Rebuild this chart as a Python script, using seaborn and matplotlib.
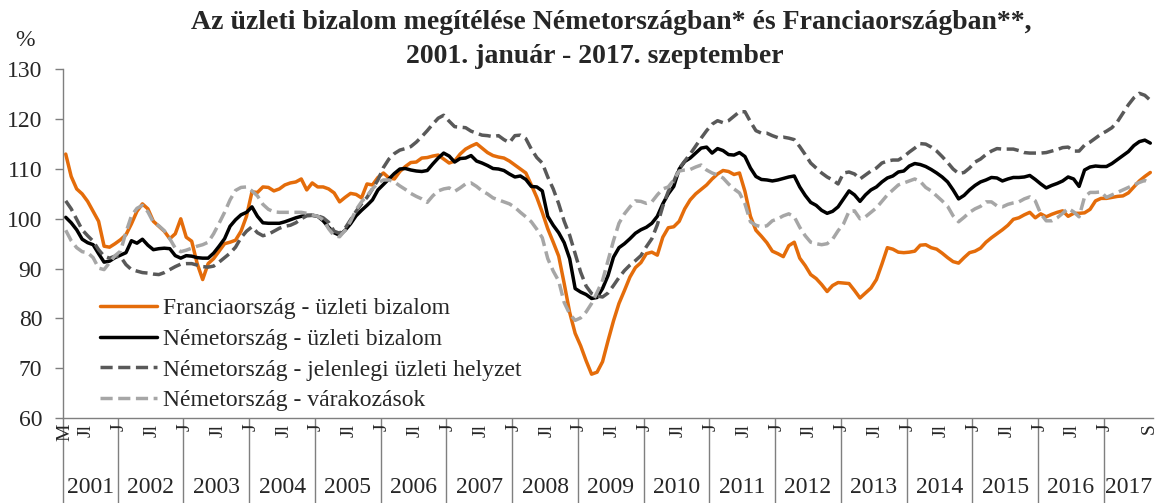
import numpy as np
import pandas as pd
import matplotlib
matplotlib.use('Agg')
import matplotlib.pyplot as plt
import matplotlib.transforms as mtransforms
import seaborn as sns

# 2001. március - 2017. szeptember, havi adatok
years = list(range(2001, 2018))
months_in_year = [10] + [12] * 15 + [9]

fr_business = (
    [113, 108.5, 106, 105, 103.5, 101.5, 99.5, 94.5, 94.3, 95] +
    [95.8, 96.8, 99, 101.5, 103, 102, 99.5, 98.5, 97.5, 96, 97, 100] +
    [96.3, 95.5, 91, 87.8, 91, 92, 93.5, 95, 95.3, 95.7, 97.5, 100.5] +
    [105.4, 105.3, 106.4, 106.3, 105.6, 106, 106.8, 107.2, 107.4, 108, 105.8, 107.2] +
    [106.4, 106.4, 106, 105.2, 103.4, 104.3, 105.1, 104.9, 104.2, 107, 106.8, 108.3] +
    [109.2, 108.2, 108, 109.5, 110.5, 111.3, 111.4, 112.2, 112.3, 112.6, 112.8, 112] +
    [111.2, 111.6, 113, 114, 114.6, 115.1, 114.2, 113.3, 112.7, 112.4, 112.2, 111.6] +
    [110.8, 110, 109.2, 106.8, 104.3, 101.3, 98, 95.3, 92.5, 87, 81.2, 77] +
    [74.5, 71.5, 68.8, 69.2, 71.3, 75.5, 79.5, 83, 85.6, 88.3, 90.2, 91.2] +
    [93, 93.3, 92.7, 96.3, 98.2, 98.4, 99.5, 102, 103.8, 105, 105.9, 106.8] +
    [108, 109, 109.7, 109.5, 108.9, 109.2, 105.5, 100.5, 97.7, 96.5, 95.2, 93.5] +
    [93, 92.4, 94.6, 95.3, 92.1, 90.6, 88.8, 88, 86.8, 85.4, 86.6, 87.2] +
    [87.1, 87, 85.6, 84.1, 85.1, 86.1, 87.8, 90.9, 94.2, 93.9, 93.3, 93.2] +
    [93.3, 93.5, 94.7, 94.8, 94.2, 93.9, 93.1, 92.2, 91.4, 91.1, 92.2, 93.2] +
    [93.5, 94.1, 95.3, 96.2, 97, 97.8, 98.7, 99.9, 100.2, 100.8, 101.3, 100.2] +
    [101, 100.4, 100.9, 101.3, 101.6, 100.5, 101.1, 101.1, 101.2, 101.9, 103.6, 104.1] +
    [104.1, 104.3, 104.5, 104.6, 105.2, 106.4, 107.6, 108.5, 109.3]
)

de_business = (
    [100.3, 99.2, 97.8, 95.9, 95.2, 94.8, 93, 91.3, 91.5, 92.2] +
    [92.7, 93.2, 95.6, 95.1, 95.9, 94.7, 93.8, 94, 94.1, 94, 92.6, 92.1] +
    [92.6, 92.5, 92.2, 92.1, 92.1, 93.1, 94.5, 96, 98.5, 99.8, 100.8, 101.3] +
    [102.4, 100.5, 99.2, 99.1, 99.1, 99.1, 99.4, 99.8, 100.2, 100.5, 100.7, 100.7] +
    [100.5, 99.6, 98.3, 97.2, 96.7, 97.7, 99, 100.6, 101.7, 102.7, 103.8, 105.8] +
    [106.9, 108, 109.1, 110, 110.1, 109.8, 109.6, 109.5, 109.7, 111, 112.2, 113.2] +
    [112.6, 111.4, 112.1, 112.2, 112.7, 111.6, 111.2, 110.7, 110.1, 110, 109.7, 109] +
    [108.4, 108.6, 107.9, 106.5, 106.4, 105.6, 100.5, 98.7, 97.2, 95.2, 92, 86] +
    [85.3, 84.8, 84, 84.2, 86, 88.6, 92.3, 94.2, 95, 96, 97.1, 97.8] +
    [98.3, 99.1, 100.5, 103, 105, 106.5, 110, 111.5, 112.2, 113.2, 114.2, 114.4] +
    [113.2, 114.1, 113.7, 112.9, 112.8, 113.3, 112.5, 110.2, 108.5, 107.9, 107.8, 107.6] +
    [107.8, 108.1, 108.4, 108.6, 106.4, 104.7, 103.3, 102.7, 101.7, 101.1, 101.5, 102.4] +
    [104, 105.6, 104.8, 103.5, 104.8, 105.8, 106.4, 107.4, 108.2, 108.6, 109.4, 109.6] +
    [110.6, 111.1, 110.9, 110.5, 109.9, 109.2, 108.4, 107.4, 105.8, 104, 104.7, 105.8] +
    [106.7, 107.4, 107.8, 108.3, 108.2, 107.6, 108, 108.3, 108.3, 108.4, 108.7, 107.9] +
    [107, 106.2, 106.7, 107.1, 107.6, 108.4, 108, 106.5, 109.8, 110.4, 110.6, 110.5] +
    [110.5, 111.1, 111.9, 112.7, 113.5, 114.7, 115.5, 115.8, 115.2]
)

de_current = (
    [103.6, 102, 99.9, 97.8, 96.6, 95.5, 93.8, 92.5, 92.1, 92.5] +
    [92.4, 90.8, 89.8, 89.5, 89.2, 89.1, 88.9, 88.8, 89.2, 89.8, 90.4, 90.9] +
    [91, 91, 90.7, 90.4, 90.3, 90.5, 91.3, 92.2, 93.1, 94.3, 96.2, 97.5] +
    [98.4, 97.2, 96.6, 96.9, 97.5, 98.1, 98.5, 98.7, 99.2, 100, 100.6, 100.7] +
    [100.6, 100.2, 99.3, 97.5, 97.1, 98.1, 99.8, 101.5, 103, 104.3, 106, 107.8] +
    [110.3, 112, 113.1, 113.8, 114.1, 114.5, 115.4, 116.5, 117.7, 119, 120.2, 120.8] +
    [119.6, 118.5, 118.4, 118.3, 117.6, 117.2, 116.8, 116.7, 116.5, 116.7, 115.9, 115.3] +
    [116.7, 116.8, 116.1, 114, 112.3, 111.2, 108.4, 106, 103, 99.5, 96.7, 93] +
    [89.3, 86.5, 85, 84.5, 84.3, 85.1, 86.6, 88.2, 89.6, 90.7, 91.6, 92.6] +
    [94.4, 96, 98.8, 102.5, 105.5, 107.5, 110.1, 111.6, 113, 114.6, 116.2, 117.7] +
    [119, 119.7, 119.3, 119.7, 120.6, 121.5, 121.5, 119.5, 117.7, 117.2, 117.2, 116.7] +
    [116.3, 116.4, 116.2, 115.9, 114.5, 112.9, 111.2, 110.2, 109.2, 108.4, 107.8, 107] +
    [109.2, 109.4, 109, 108, 108.8, 109.6, 110.2, 111.2, 111.6, 111.8, 111.8, 112.5] +
    [113.4, 114.2, 115.1, 115, 114.4, 113.6, 112.5, 111.3, 110, 109.1, 109.3, 110.2] +
    [111.4, 112, 112.9, 113.6, 114.1, 114, 114, 114, 113.7, 113.3, 113.2, 113.2] +
    [113.2, 113.3, 113.6, 113.9, 114.3, 114.4, 113.6, 113.6, 114.8, 115.4, 116.2, 117] +
    [117.6, 118.3, 119.5, 121.2, 122.9, 124.3, 125.2, 124.8, 123.8]
)

de_expect = (
    [97.7, 95.6, 94.2, 93.4, 93.2, 92.2, 90.1, 89.8, 91.2, 92.6] +
    [93.5, 97.3, 100.6, 102.1, 102.7, 101.4, 99.3, 98.6, 97.6, 96, 94.1, 93.4] +
    [93.7, 94.1, 94.5, 94.8, 95.3, 97, 99.1, 101.3, 103.8, 105.7, 106.3, 106.4] +
    [105.6, 104.6, 102.9, 101.9, 101.4, 101.3, 101.3, 101.3, 101.3, 101.3, 101.1, 100.8] +
    [100.5, 99.8, 98, 96.6, 96.4, 97.7, 99.5, 101.8, 103.4, 104.6, 106, 107.2] +
    [107.8, 107.8, 107.4, 106.6, 105.9, 105.1, 104.5, 104, 103.3, 104.6, 105.6, 106] +
    [106.2, 105.5, 106.2, 107, 107.2, 106.5, 105.6, 105, 104.2, 103.8, 103.4, 103] +
    [102.3, 101.3, 100.4, 99.4, 97.9, 96.2, 92, 89.5, 87.5, 83.2, 80.9, 79.6] +
    [80.1, 81.3, 83, 85.2, 87.6, 91.6, 95.6, 99.1, 101, 102.4, 103.6, 103.5] +
    [103.1, 103.4, 104.8, 106, 106.4, 107.8, 109.6, 109.8, 109.9, 110.4, 110.8, 109.8] +
    [109.2, 108.8, 108.2, 107, 106, 105.2, 103, 99.4, 98.7, 98.4, 98.6, 99.6] +
    [100, 100.6, 101, 100.4, 98.3, 96.6, 95.3, 95, 94.8, 95, 95.9, 97.6] +
    [99, 101.5, 101.6, 100, 100.4, 101.3, 102.2, 103.5, 104.8, 105.8, 106.8, 107.2] +
    [107.6, 108, 107.5, 106.3, 105.6, 104.6, 103.6, 102.5, 100.6, 99.4, 100.3, 101.3] +
    [102, 102.5, 103.4, 103.4, 102.6, 102.4, 102.9, 103.2, 103.4, 104, 104.4, 103.6] +
    [101, 99.6, 99.6, 100.2, 101.1, 102.1, 101.4, 100.4, 104.4, 105.3, 105.3, 105.4] +
    [104.3, 104.8, 105.3, 105.8, 106.3, 106.8, 107.3, 107.7, 107.2]
)

labels = ['Franciaország - üzleti bizalom',
          'Németország - üzleti bizalom',
          'Németország - jelenlegi üzleti helyzet',
          'Németország - várakozások']

sns.set_theme(style='white')
plt.rcParams['font.family'] = ['Liberation Serif', 'DejaVu Serif']

periods = pd.period_range('2001-03', '2017-09', freq='M')
df = pd.DataFrame({
    'honap': np.arange(len(periods)) + 0.5,
    'fr': fr_business, 'de': de_business,
    'cur': de_current, 'exp': de_expect,
})

fig, ax = plt.subplots(figsize=(11.6, 5.03), dpi=100)
fig.subplots_adjust(left=0.0543, right=0.994, bottom=0.169, top=0.862)

styles = [('fr', '#E46C0A', '-'), ('de', '#000000', '-'),
          ('cur', '#595959', (0, (3.5, 1.6))), ('exp', '#A6A6A6', (0, (3.5, 1.6)))]
for (col, color, ls), lab in zip(styles, labels):
    sns.lineplot(data=df, x='honap', y=col, ax=ax, color=color, linestyle=ls,
                 linewidth=2.5, label=lab, solid_joinstyle='round',
                 dash_capstyle='butt')

ax.set_xlim(0, len(periods))
ax.set_ylim(60, 130)
ax.set_yticks(range(60, 131, 10))
ax.set_xlabel('')
ax.set_ylabel('')

axis_gray = '#7F7F7F'
for s in ['top', 'right']:
    ax.spines[s].set_visible(False)
for s in ['left', 'bottom']:
    ax.spines[s].set_color(axis_gray)
    ax.spines[s].set_linewidth(1)

# year separators (long major ticks) and month labels (minor ticks)
bounds = np.cumsum([0] + months_in_year)
ax.set_xticks(bounds[:-1])
ax.set_xticklabels([])
ax.tick_params(axis='x', which='major', bottom=True, length=61, width=1,
               color=axis_gray, direction='out')

lab_pos, lab_txt = [], []
for i, p in enumerate(periods):
    if i == 0:
        lab_pos.append(i + 0.3); lab_txt.append('M')
    elif i == len(periods) - 1:
        lab_pos.append(i + 0.3); lab_txt.append('S')
    elif p.month == 1:
        lab_pos.append(i + 0.3); lab_txt.append('J')
    elif p.month == 7 and p.year < 2017:
        lab_pos.append(i + 0.3); lab_txt.append('Jl')
ax.set_xticks(lab_pos, minor=True)
ax.set_xticklabels(lab_txt, minor=True, rotation=90, fontsize=14)
ax.tick_params(axis='x', which='minor', bottom=True, length=0, pad=4)

ax.tick_params(axis='y', left=True, length=6, width=1, color=axis_gray,
               direction='out', labelsize=17, pad=9)

trans = mtransforms.blended_transform_factory(ax.transData, ax.transAxes)
for y, a, b in zip(years, bounds[:-1], bounds[1:]):
    ax.text((a + b) / 2, -0.198, str(y), transform=trans, ha='center',
            va='center', fontsize=17)

ax.legend(loc='upper left', bbox_to_anchor=(0.034, 0.345), frameon=False,
          fontsize=17, handlelength=2.42, handletextpad=0.25,
          labelspacing=0.39, borderpad=0, borderaxespad=0)

fig.text(0.527, 0.956, 'Az üzleti bizalom megítélése Németországban* és '
         'Franciaországban**,', ha='center', va='center', fontsize=20,
         fontweight='bold')
fig.text(0.513, 0.887, '2001. január - 2017. szeptember', ha='center',
         va='center', fontsize=20, fontweight='bold')
fig.text(0.0216, 0.92, '%', ha='center', va='center', fontsize=17)

fig.savefig('out.png', dpi=100)
